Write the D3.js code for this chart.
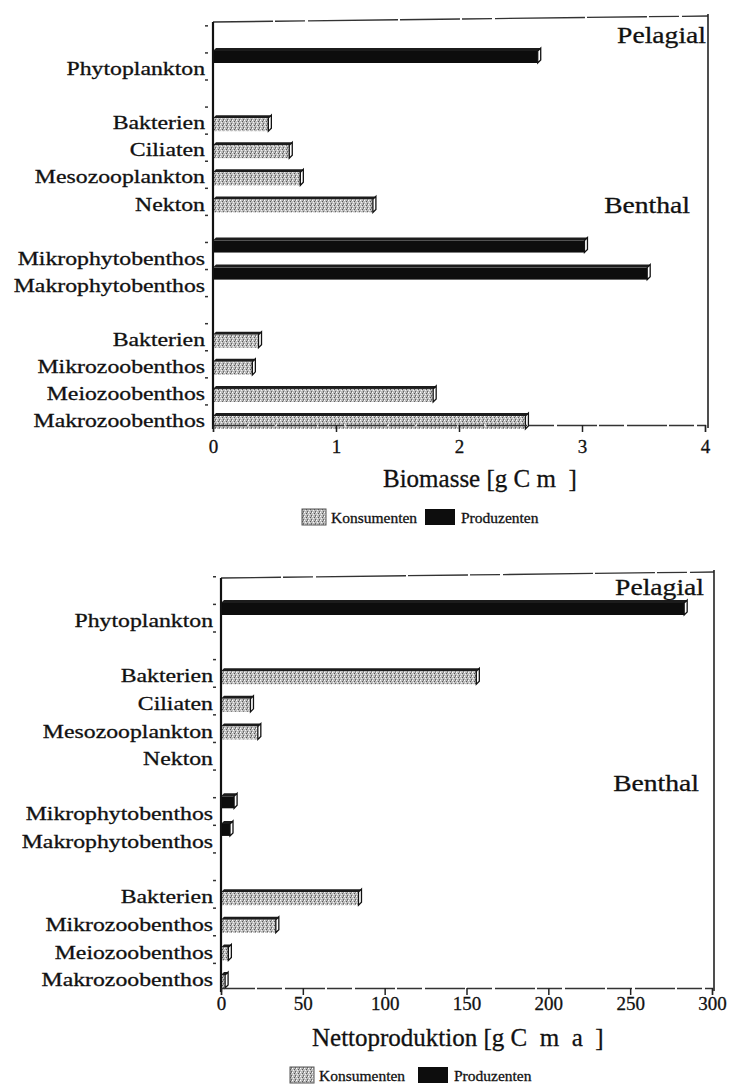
<!DOCTYPE html>
<html>
<head>
<meta charset="utf-8">
<script src="https://cdn.jsdelivr.net/npm/d3@7"></script>
<style>
  body { margin: 0; background: #fff; }
  text { font-family: "Liberation Serif", "Times New Roman", serif; fill: #111; stroke: #111; stroke-width: 0.3px; white-space: pre; }
</style>
</head>
<body>
<svg id="chart" width="731" height="1092"></svg>
<script>
// Categories top to bottom; null marks an empty row between compartments
const categories = ["Phytoplankton", null, "Bakterien", "Ciliaten", "Mesozooplankton", "Nekton", null,
  "Mikrophytobenthos", "Makrophytobenthos", null, "Bakterien", "Mikrozoobenthos", "Meiozoobenthos", "Makrozoobenthos"];
const trophicGroup = ["Produzenten", null, "Konsumenten", "Konsumenten", "Konsumenten", "Konsumenten", null,
  "Produzenten", "Produzenten", null, "Konsumenten", "Konsumenten", "Konsumenten", "Konsumenten"];
// Biomasse [g C m-2]
const biomasse = [2.64, null, 0.45, 0.62, 0.71, 1.30, null, 3.02, 3.53, null, 0.37, 0.32, 1.79, 2.54];
// Nettoproduktion [g C m-2 a-1]
const nettoproduktion = [283, null, 156, 18, 22.5, 0, null, 8, 5.5, null, 84, 33.5, 4.5, 2.5];
const biomasseTicks = [0, 1, 2, 3, 4];
const produktionTicks = [0, 50, 100, 150, 200, 250, 300];
const zones = ["Pelagial", "Benthal"];
const legendLabels = ["Konsumenten", "Produzenten"];

const svg = d3.select("#chart");

// stippled grey fill for consumer bars
const defs = svg.append("defs");
const pat = defs.append("pattern").attr("id", "stipple").attr("patternUnits", "userSpaceOnUse")
  .attr("width", 4).attr("height", 4);
pat.append("rect").attr("width", 4).attr("height", 4).attr("fill", "#bdbdbd");
[[0, 0, "#fff"], [2, 1, "#555"], [1, 2, "#f2f2f2"], [3, 3, "#666"], [3, 0, "#888"]].forEach(([x, y, c]) =>
  pat.append("rect").attr("x", x).attr("y", y).attr("width", 1).attr("height", 1).attr("fill", c));

function label(g, x, y, s, size, anchor, sx) {
  g.append("text")
    .attr("transform", `translate(${x},${y}) scale(${sx},1)`)
    .attr("text-anchor", anchor)
    .attr("dominant-baseline", "central")
    .style("font-size", size + "px")
    .text(s);
}

function panel(opts) {
  const g = svg.append("g");
  const x = d3.scaleLinear().domain(opts.domain).range(opts.xRange);
  const y = d3.scaleLinear().domain([0, categories.length - 1]).range(opts.yRange);
  const left = x(0), right = opts.right, top = opts.top, bottom = opts.bottom;

  // frame
  g.append("line").attr("x1", left).attr("x2", right).attr("y1", top).attr("y2", top - 6)
    .attr("stroke", "#333").attr("stroke-width", 1.3).attr("stroke-dasharray", "60,2,30,3,90,2");
  g.append("line").attr("x1", right).attr("x2", right).attr("y1", top - 8).attr("y2", bottom + 3)
    .attr("stroke", "#222").attr("stroke-width", 1.6);

  // small category ticks left of the axis
  d3.range(-2, categories.length - 1).forEach(i => {
    g.append("line").attr("x1", left - 8).attr("x2", left - 5)
      .attr("y1", y(i) + 11).attr("y2", y(i) + 11).attr("stroke", "#333").attr("stroke-width", 1.5);
  });

  // bars with a shallow 3-D top and side face
  const d = 3;
  categories.forEach((c, i) => {
    const v = opts.values[i];
    if (c === null || v === null || v <= 0) return;
    const prod = trophicGroup[i] === "Produzenten";
    const y0 = prod ? y(i) - 18 : y(i) - 5;
    const y1 = prod ? y(i) - 6 : y(i) + 8;
    const x0 = left, x1 = x(v);
    g.append("path")
      .attr("d", `M${x0},${y0} L${x0 + d},${y0 - d} L${x1 + d},${y0 - d} L${x1},${y0} Z`)
      .attr("fill", "#1c1c1c");
    g.append("rect").attr("x", x0).attr("y", y0).attr("width", Math.max(0, x1 - x0)).attr("height", y1 - y0)
      .attr("fill", prod ? "#0d0d0d" : "url(#stipple)");
    g.append("path")
      .attr("d", `M${x1},${y0} L${x1 + d},${y0 - d} L${x1 + d},${y1 - d} L${x1},${y1} Z`)
      .attr("fill", "#fff").attr("stroke", "#111").attr("stroke-width", 1.3);
  });

  // axes
  g.append("line").attr("x1", left).attr("x2", left).attr("y1", top).attr("y2", bottom + 4)
    .attr("stroke", "#111").attr("stroke-width", 2.2);
  const xAxis = d3.axisBottom(x).tickValues(opts.ticks).tickSize(7).tickPadding(opts.tickPad)
    .tickFormat(d3.format("d"));
  const ax = g.append("g").attr("transform", `translate(0,${bottom})`).call(xAxis);
  ax.select(".domain").attr("stroke", "#333").attr("stroke-width", 1.3).attr("stroke-dasharray", "40,2,25,3");
  ax.selectAll(".tick line").attr("stroke", "#222").attr("stroke-width", 1.5);
  ax.selectAll(".tick text").style("font-size", "19px").attr("fill", "#111")
    .attr("font-family", "Liberation Serif");

  // category labels
  categories.forEach((c, i) => {
    if (c !== null) label(g, left - 8, y(i), c, 19, "end", 1.25);
  });

  // compartment names
  label(g, opts.zoneX[0], opts.zoneY[0], zones[0], 24, "end", 1.15);
  label(g, opts.zoneX[1], opts.zoneY[1], zones[1], 24, "end", 1.15);

  // axis title
  label(g, opts.titleX, opts.titleY, opts.title, opts.titleSize, "start", 1.0);

  // legend
  const ly = opts.legendY;
  g.append("rect").attr("x", opts.legendX[0]).attr("y", ly - 8).attr("width", 24).attr("height", 16)
    .attr("fill", "url(#stipple)").attr("stroke", "#555");
  label(g, opts.legendX[0] + 29, ly, legendLabels[0], 15.5, "start", 1.0);
  g.append("rect").attr("x", opts.legendX[1]).attr("y", ly - 8).attr("width", 30).attr("height", 16)
    .attr("fill", "#0d0d0d");
  label(g, opts.legendX[1] + 36, ly, legendLabels[1], 15.5, "start", 1.0);
}

panel({
  values: biomasse, domain: [0, 4], ticks: biomasseTicks, tickPad: 8,
  xRange: [213, 705], yRange: [69, 421], right: 708, top: 22, bottom: 425,
  zoneX: [706, 690], zoneY: [35, 205],
  title: "Biomasse [g C m  ]", titleX: 383, titleY: 478, titleSize: 25,
  legendX: [302, 425], legendY: 517
});

panel({
  values: nettoproduktion, domain: [0, 300], ticks: produktionTicks, tickPad: 2,
  xRange: [221, 712], yRange: [621, 980], right: 714, top: 578, bottom: 988,
  zoneX: [704, 699], zoneY: [587, 783],
  title: "Nettoproduktion [g C  m  a  ]", titleX: 312, titleY: 1037, titleSize: 25,
  legendX: [290, 418], legendY: 1075
});
</script>
</body>
</html>
